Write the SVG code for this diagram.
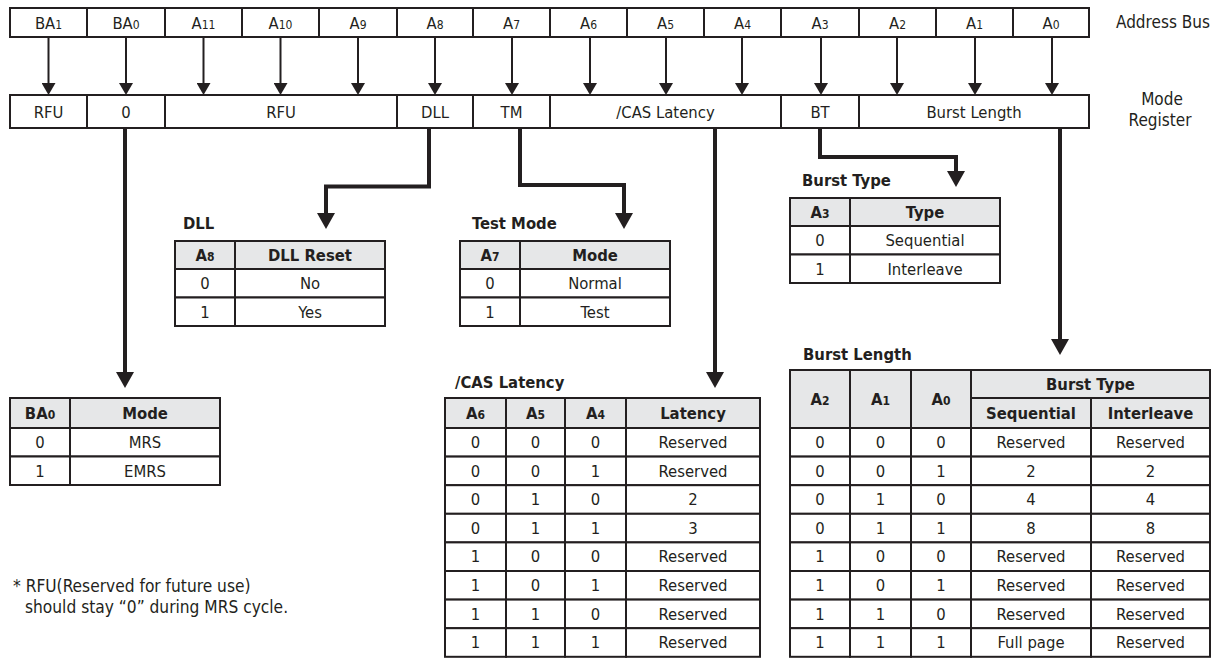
<svg xmlns="http://www.w3.org/2000/svg" width="1221" height="660" viewBox="0 0 1221 660">
<style>
.c{fill:#fff;stroke:#231f20;stroke-width:2}
.h{fill:#e6e7e8;stroke:#231f20;stroke-width:2}
text{font-family:"DejaVu Sans Condensed","DejaVu Sans",Verdana,sans-serif;font-stretch:condensed;font-size:16.5px;fill:#231f20;text-anchor:middle}
.b{font-weight:bold}
.s{font-size:12px}
.l{text-anchor:start}
.side{font-size:17px}
.fn{font-size:17.2px;text-anchor:start}
.thin{stroke:#231f20;stroke-width:2;fill:none}
.thick{stroke:#231f20;stroke-width:4;fill:none}
</style>
<defs>
<marker id="ah" markerUnits="userSpaceOnUse" markerWidth="12" markerHeight="14" refX="0" refY="7" orient="auto" viewBox="0 0 12 14"><path d="M0,0 L12,7 L0,14 z" fill="#231f20"/></marker>
<marker id="ahT" markerUnits="userSpaceOnUse" markerWidth="16" markerHeight="18" refX="0" refY="9" orient="auto" viewBox="0 0 16 18"><path d="M0,0 L16,9 L0,18 z" fill="#231f20"/></marker>
</defs>
<rect width="1221" height="660" fill="#fff"/>

<g id="address-bus">
<g id="bus-BA1"><rect class="c" x="10" y="8" width="77" height="29"/><text x="48.5" y="28.5">BA<tspan class="s">1</tspan></text></g>
<g id="bus-BA0"><rect class="c" x="87" y="8" width="78" height="29"/><text x="126" y="28.5">BA<tspan class="s">0</tspan></text></g>
<g id="bus-A11"><rect class="c" x="165" y="8" width="77" height="29"/><text x="203.5" y="28.5">A<tspan class="s">11</tspan></text></g>
<g id="bus-A10"><rect class="c" x="242" y="8" width="77" height="29"/><text x="280.5" y="28.5">A<tspan class="s">10</tspan></text></g>
<g id="bus-A9"><rect class="c" x="319" y="8" width="78" height="29"/><text x="358" y="28.5">A<tspan class="s">9</tspan></text></g>
<g id="bus-A8"><rect class="c" x="397" y="8" width="76" height="29"/><text x="435" y="28.5">A<tspan class="s">8</tspan></text></g>
<g id="bus-A7"><rect class="c" x="473" y="8" width="77" height="29"/><text x="511.5" y="28.5">A<tspan class="s">7</tspan></text></g>
<g id="bus-A6"><rect class="c" x="550" y="8" width="77" height="29"/><text x="588.5" y="28.5">A<tspan class="s">6</tspan></text></g>
<g id="bus-A5"><rect class="c" x="627" y="8" width="77" height="29"/><text x="665.5" y="28.5">A<tspan class="s">5</tspan></text></g>
<g id="bus-A4"><rect class="c" x="704" y="8" width="77" height="29"/><text x="742.5" y="28.5">A<tspan class="s">4</tspan></text></g>
<g id="bus-A3"><rect class="c" x="781" y="8" width="78" height="29"/><text x="820" y="28.5">A<tspan class="s">3</tspan></text></g>
<g id="bus-A2"><rect class="c" x="859" y="8" width="77" height="29"/><text x="897.5" y="28.5">A<tspan class="s">2</tspan></text></g>
<g id="bus-A1"><rect class="c" x="936" y="8" width="77" height="29"/><text x="974.5" y="28.5">A<tspan class="s">1</tspan></text></g>
<g id="bus-A0"><rect class="c" x="1013" y="8" width="76" height="29"/><text x="1051" y="28.5">A<tspan class="s">0</tspan></text></g>
<text class="l side" x="1116" y="28">Address Bus</text>
</g>

<g id="mode-register">
<g id="reg-RFU1"><rect class="c" x="10" y="95" width="77" height="33"/><text x="48.5" y="117.5">RFU</text></g>
<g id="reg-0"><rect class="c" x="87" y="95" width="78" height="33"/><text x="126" y="117.5">0</text></g>
<g id="reg-RFU2"><rect class="c" x="165" y="95" width="232" height="33"/><text x="281" y="117.5">RFU</text></g>
<g id="reg-DLL"><rect class="c" x="397" y="95" width="76" height="33"/><text x="435" y="117.5">DLL</text></g>
<g id="reg-TM"><rect class="c" x="473" y="95" width="77" height="33"/><text x="511.5" y="117.5">TM</text></g>
<g id="reg-CAS"><rect class="c" x="550" y="95" width="231" height="33"/><text x="665.5" y="117.5">/CAS Latency</text></g>
<g id="reg-BT"><rect class="c" x="781" y="95" width="78" height="33"/><text x="820" y="117.5">BT</text></g>
<g id="reg-BL"><rect class="c" x="859" y="95" width="230" height="33"/><text x="974" y="117.5">Burst Length</text></g>
<text class="side" x="1162" y="105">Mode</text>
<text class="side" x="1160" y="125.5">Register</text>
</g>

<g id="connectors">
<g class="thin" marker-end="url(#ah)">
<path d="M48.5,37V83"/><path d="M126,37V83"/><path d="M203.5,37V83"/><path d="M280.5,37V83"/><path d="M358,37V83"/><path d="M435,37V83"/><path d="M512,37V83"/><path d="M590,37V83"/><path d="M666,37V83"/><path d="M742,37V83"/><path d="M821,37V83"/><path d="M897,37V83"/><path d="M975,37V83"/><path d="M1052,37V83"/>
</g>
<g class="thick" marker-end="url(#ahT)">
<path d="M125,129V372"/>
<path d="M429,129V186.5H326V213"/>
<path d="M520,129V185H624V213"/>
<path d="M715,129V372"/>
<path d="M820,129V157H956V171"/>
<path d="M1060,129V339"/>
</g>
</g>

<g id="table-ba0">
<rect class="h" x="10" y="398" width="60" height="30"/><rect class="h" x="70" y="398" width="150" height="30"/>
<rect class="c" x="10" y="428" width="60" height="28.5"/><rect class="c" x="70" y="428" width="150" height="28.5"/>
<rect class="c" x="10" y="456.5" width="60" height="28.5"/><rect class="c" x="70" y="456.5" width="150" height="28.5"/>
<text class="b" x="40" y="419">BA<tspan class="s">0</tspan></text><text class="b" x="145" y="419">Mode</text>
<text x="40" y="448">0</text><text x="145" y="448">MRS</text>
<text x="40" y="476.5">1</text><text x="145" y="476.5">EMRS</text>
</g>

<g id="table-dll">
<text class="b l" x="183" y="229">DLL</text>
<rect class="h" x="175" y="241" width="60" height="28"/><rect class="h" x="235" y="241" width="150" height="28"/>
<rect class="c" x="175" y="269" width="60" height="28.5"/><rect class="c" x="235" y="269" width="150" height="28.5"/>
<rect class="c" x="175" y="297.5" width="60" height="28.5"/><rect class="c" x="235" y="297.5" width="150" height="28.5"/>
<text class="b" x="205" y="261">A<tspan class="s">8</tspan></text><text class="b" x="310" y="261">DLL Reset</text>
<text x="205" y="289">0</text><text x="310" y="289">No</text>
<text x="205" y="317.5">1</text><text x="310" y="317.5">Yes</text>
</g>

<g id="table-test-mode">
<text class="b l" x="472" y="229">Test Mode</text>
<rect class="h" x="460" y="241" width="60" height="28"/><rect class="h" x="520" y="241" width="150" height="28"/>
<rect class="c" x="460" y="269" width="60" height="28.5"/><rect class="c" x="520" y="269" width="150" height="28.5"/>
<rect class="c" x="460" y="297.5" width="60" height="28.5"/><rect class="c" x="520" y="297.5" width="150" height="28.5"/>
<text class="b" x="490" y="261">A<tspan class="s">7</tspan></text><text class="b" x="595" y="261">Mode</text>
<text x="490" y="289">0</text><text x="595" y="289">Normal</text>
<text x="490" y="317.5">1</text><text x="595" y="317.5">Test</text>
</g>

<g id="table-burst-type">
<text class="b l" x="802" y="186">Burst Type</text>
<rect class="h" x="790" y="198" width="60" height="28"/><rect class="h" x="850" y="198" width="150" height="28"/>
<rect class="c" x="790" y="226" width="60" height="28.5"/><rect class="c" x="850" y="226" width="150" height="28.5"/>
<rect class="c" x="790" y="254.5" width="60" height="28.5"/><rect class="c" x="850" y="254.5" width="150" height="28.5"/>
<text class="b" x="820" y="218">A<tspan class="s">3</tspan></text><text class="b" x="925" y="218">Type</text>
<text x="820" y="246">0</text><text x="925" y="246">Sequential</text>
<text x="820" y="274.5">1</text><text x="925" y="274.5">Interleave</text>
</g>

<g id="table-cas-latency">
<text class="b l" x="455" y="388">/CAS Latency</text>
<rect class="h" x="445" y="398" width="61" height="30"/><rect class="h" x="506" y="398" width="59" height="30"/><rect class="h" x="565" y="398" width="61" height="30"/><rect class="h" x="626" y="398" width="134" height="30"/>
<text class="b" x="475.5" y="419">A<tspan class="s">6</tspan></text><text class="b" x="535.5" y="419">A<tspan class="s">5</tspan></text><text class="b" x="595.5" y="419">A<tspan class="s">4</tspan></text><text class="b" x="693" y="419">Latency</text>
<g>
<rect class="c" x="445" y="428" width="61" height="28.6"/><rect class="c" x="506" y="428" width="59" height="28.6"/><rect class="c" x="565" y="428" width="61" height="28.6"/><rect class="c" x="626" y="428" width="134" height="28.6"/>
<rect class="c" x="445" y="456.6" width="61" height="28.6"/><rect class="c" x="506" y="456.6" width="59" height="28.6"/><rect class="c" x="565" y="456.6" width="61" height="28.6"/><rect class="c" x="626" y="456.6" width="134" height="28.6"/>
<rect class="c" x="445" y="485.2" width="61" height="28.6"/><rect class="c" x="506" y="485.2" width="59" height="28.6"/><rect class="c" x="565" y="485.2" width="61" height="28.6"/><rect class="c" x="626" y="485.2" width="134" height="28.6"/>
<rect class="c" x="445" y="513.8" width="61" height="28.6"/><rect class="c" x="506" y="513.8" width="59" height="28.6"/><rect class="c" x="565" y="513.8" width="61" height="28.6"/><rect class="c" x="626" y="513.8" width="134" height="28.6"/>
<rect class="c" x="445" y="542.4" width="61" height="28.6"/><rect class="c" x="506" y="542.4" width="59" height="28.6"/><rect class="c" x="565" y="542.4" width="61" height="28.6"/><rect class="c" x="626" y="542.4" width="134" height="28.6"/>
<rect class="c" x="445" y="571" width="61" height="28.6"/><rect class="c" x="506" y="571" width="59" height="28.6"/><rect class="c" x="565" y="571" width="61" height="28.6"/><rect class="c" x="626" y="571" width="134" height="28.6"/>
<rect class="c" x="445" y="599.6" width="61" height="28.6"/><rect class="c" x="506" y="599.6" width="59" height="28.6"/><rect class="c" x="565" y="599.6" width="61" height="28.6"/><rect class="c" x="626" y="599.6" width="134" height="28.6"/>
<rect class="c" x="445" y="628.2" width="61" height="28.6"/><rect class="c" x="506" y="628.2" width="59" height="28.6"/><rect class="c" x="565" y="628.2" width="61" height="28.6"/><rect class="c" x="626" y="628.2" width="134" height="28.6"/>
</g>
<text x="475.5" y="448">0</text><text x="535.5" y="448">0</text><text x="595.5" y="448">0</text><text x="693" y="448">Reserved</text>
<text x="475.5" y="476.6">0</text><text x="535.5" y="476.6">0</text><text x="595.5" y="476.6">1</text><text x="693" y="476.6">Reserved</text>
<text x="475.5" y="505.2">0</text><text x="535.5" y="505.2">1</text><text x="595.5" y="505.2">0</text><text x="693" y="505.2">2</text>
<text x="475.5" y="533.8">0</text><text x="535.5" y="533.8">1</text><text x="595.5" y="533.8">1</text><text x="693" y="533.8">3</text>
<text x="475.5" y="562.4">1</text><text x="535.5" y="562.4">0</text><text x="595.5" y="562.4">0</text><text x="693" y="562.4">Reserved</text>
<text x="475.5" y="591">1</text><text x="535.5" y="591">0</text><text x="595.5" y="591">1</text><text x="693" y="591">Reserved</text>
<text x="475.5" y="619.6">1</text><text x="535.5" y="619.6">1</text><text x="595.5" y="619.6">0</text><text x="693" y="619.6">Reserved</text>
<text x="475.5" y="648.2">1</text><text x="535.5" y="648.2">1</text><text x="595.5" y="648.2">1</text><text x="693" y="648.2">Reserved</text>
</g>

<g id="table-burst-length">
<text class="b l" x="803" y="360">Burst Length</text>
<rect class="h" x="790" y="370" width="60" height="58"/><rect class="h" x="850" y="370" width="61" height="58"/><rect class="h" x="911" y="370" width="60" height="58"/>
<rect class="h" x="971" y="370" width="239" height="28"/>
<rect class="h" x="971" y="398" width="120" height="30"/><rect class="h" x="1091" y="398" width="119" height="30"/>
<text class="b" x="820" y="405">A<tspan class="s">2</tspan></text><text class="b" x="880.5" y="405">A<tspan class="s">1</tspan></text><text class="b" x="941" y="405">A<tspan class="s">0</tspan></text>
<text class="b" x="1090.5" y="390">Burst Type</text>
<text class="b" x="1031" y="419">Sequential</text><text class="b" x="1150.5" y="419">Interleave</text>
<g>
<rect class="c" x="790" y="428" width="60" height="28.6"/><rect class="c" x="850" y="428" width="61" height="28.6"/><rect class="c" x="911" y="428" width="60" height="28.6"/><rect class="c" x="971" y="428" width="120" height="28.6"/><rect class="c" x="1091" y="428" width="119" height="28.6"/>
<rect class="c" x="790" y="456.6" width="60" height="28.6"/><rect class="c" x="850" y="456.6" width="61" height="28.6"/><rect class="c" x="911" y="456.6" width="60" height="28.6"/><rect class="c" x="971" y="456.6" width="120" height="28.6"/><rect class="c" x="1091" y="456.6" width="119" height="28.6"/>
<rect class="c" x="790" y="485.2" width="60" height="28.6"/><rect class="c" x="850" y="485.2" width="61" height="28.6"/><rect class="c" x="911" y="485.2" width="60" height="28.6"/><rect class="c" x="971" y="485.2" width="120" height="28.6"/><rect class="c" x="1091" y="485.2" width="119" height="28.6"/>
<rect class="c" x="790" y="513.8" width="60" height="28.6"/><rect class="c" x="850" y="513.8" width="61" height="28.6"/><rect class="c" x="911" y="513.8" width="60" height="28.6"/><rect class="c" x="971" y="513.8" width="120" height="28.6"/><rect class="c" x="1091" y="513.8" width="119" height="28.6"/>
<rect class="c" x="790" y="542.4" width="60" height="28.6"/><rect class="c" x="850" y="542.4" width="61" height="28.6"/><rect class="c" x="911" y="542.4" width="60" height="28.6"/><rect class="c" x="971" y="542.4" width="120" height="28.6"/><rect class="c" x="1091" y="542.4" width="119" height="28.6"/>
<rect class="c" x="790" y="571" width="60" height="28.6"/><rect class="c" x="850" y="571" width="61" height="28.6"/><rect class="c" x="911" y="571" width="60" height="28.6"/><rect class="c" x="971" y="571" width="120" height="28.6"/><rect class="c" x="1091" y="571" width="119" height="28.6"/>
<rect class="c" x="790" y="599.6" width="60" height="28.6"/><rect class="c" x="850" y="599.6" width="61" height="28.6"/><rect class="c" x="911" y="599.6" width="60" height="28.6"/><rect class="c" x="971" y="599.6" width="120" height="28.6"/><rect class="c" x="1091" y="599.6" width="119" height="28.6"/>
<rect class="c" x="790" y="628.2" width="60" height="28.6"/><rect class="c" x="850" y="628.2" width="61" height="28.6"/><rect class="c" x="911" y="628.2" width="60" height="28.6"/><rect class="c" x="971" y="628.2" width="120" height="28.6"/><rect class="c" x="1091" y="628.2" width="119" height="28.6"/>
</g>
<text x="820" y="448">0</text><text x="880.5" y="448">0</text><text x="941" y="448">0</text><text x="1031" y="448">Reserved</text><text x="1150.5" y="448">Reserved</text>
<text x="820" y="476.6">0</text><text x="880.5" y="476.6">0</text><text x="941" y="476.6">1</text><text x="1031" y="476.6">2</text><text x="1150.5" y="476.6">2</text>
<text x="820" y="505.2">0</text><text x="880.5" y="505.2">1</text><text x="941" y="505.2">0</text><text x="1031" y="505.2">4</text><text x="1150.5" y="505.2">4</text>
<text x="820" y="533.8">0</text><text x="880.5" y="533.8">1</text><text x="941" y="533.8">1</text><text x="1031" y="533.8">8</text><text x="1150.5" y="533.8">8</text>
<text x="820" y="562.4">1</text><text x="880.5" y="562.4">0</text><text x="941" y="562.4">0</text><text x="1031" y="562.4">Reserved</text><text x="1150.5" y="562.4">Reserved</text>
<text x="820" y="591">1</text><text x="880.5" y="591">0</text><text x="941" y="591">1</text><text x="1031" y="591">Reserved</text><text x="1150.5" y="591">Reserved</text>
<text x="820" y="619.6">1</text><text x="880.5" y="619.6">1</text><text x="941" y="619.6">0</text><text x="1031" y="619.6">Reserved</text><text x="1150.5" y="619.6">Reserved</text>
<text x="820" y="648.2">1</text><text x="880.5" y="648.2">1</text><text x="941" y="648.2">1</text><text x="1031" y="648.2">Full page</text><text x="1150.5" y="648.2">Reserved</text>
</g>

<g id="footnote">
<text class="fn" x="13" y="592">* RFU(Reserved for future use)</text>
<text class="fn" x="25" y="613">should stay “0” during MRS cycle.</text>
</g>
</svg>
